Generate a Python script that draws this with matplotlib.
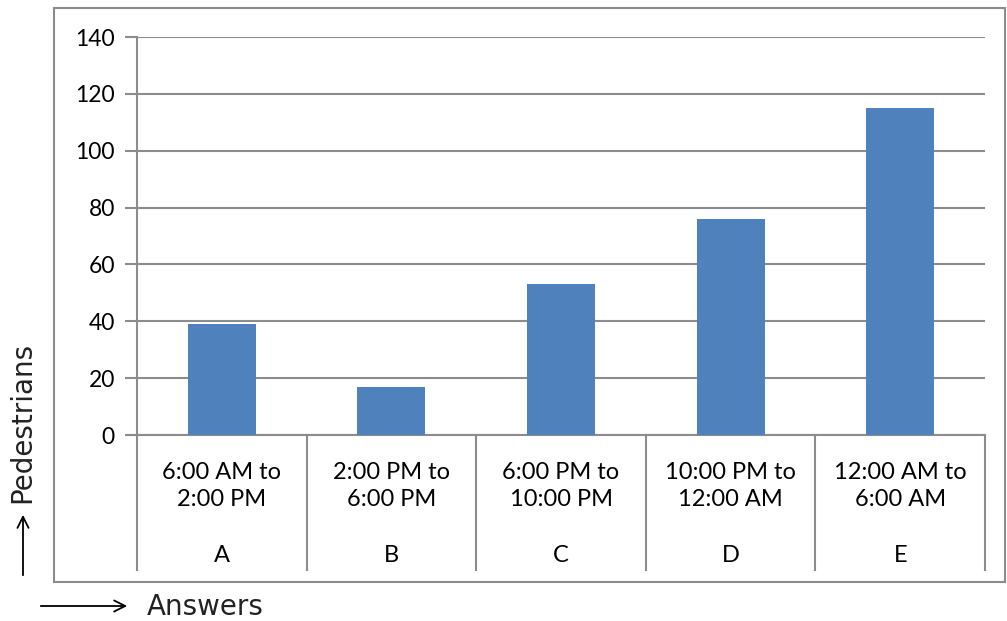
import matplotlib
matplotlib.use('Agg')
import matplotlib.pyplot as plt
from matplotlib.patches import Rectangle, FancyArrowPatch
from matplotlib.transforms import blended_transform_factory

# pedestrian counts per time slot
slots = ['6:00 AM to\n2:00 PM', '2:00 PM to\n6:00 PM', '6:00 PM to\n10:00 PM',
         '10:00 PM to\n12:00 AM', '12:00 AM to\n6:00 AM']
letters = ['A', 'B', 'C', 'D', 'E']
pedestrians = [39, 17, 53, 76, 115]
y_ticks = [0, 20, 40, 60, 80, 100, 120, 140]

BAR = '#4F81BD'
GRID = '#8C8C8C'

W, H = 1007, 621
fig = plt.figure(figsize=(W / 100, H / 100), dpi=100)
fig.patch.set_facecolor('white')

# outer chart border
fig.patches.append(Rectangle((54 / W, 1 - 582 / H), (1005 - 54) / W, (582 - 8) / H,
                             transform=fig.transFigure, fill=False,
                             edgecolor='#8C8C8C', linewidth=1.5))

ax = fig.add_axes([137 / W, 1 - 435 / H, (985 - 137) / W, (435 - 37) / H])
x = list(range(len(pedestrians)))
ax.bar(x, pedestrians, width=0.4, color=BAR, zorder=3)
ax.set_xlim(-0.5, len(pedestrians) - 0.5)
ax.set_ylim(0, 140)
ax.set_yticks(y_ticks)
ax.set_yticklabels([str(v) for v in y_ticks], fontsize=16.5, family='Lato')
ax.set_xticks([])
ax.tick_params(axis='y', length=9, width=1.5, color=GRID, pad=7)
ax.yaxis.grid(True, color=GRID, linewidth=1.5, zorder=0)
for s in ['top', 'right']:
    ax.spines[s].set_visible(False)
ax.spines['left'].set_color(GRID)
ax.spines['left'].set_linewidth(1.5)
ax.spines['bottom'].set_color(GRID)
ax.spines['bottom'].set_linewidth(1.5)

# category table below the axis
tr = blended_transform_factory(ax.transData, ax.transAxes)
depth = (570 - 435) / (435 - 37)
for i in range(len(pedestrians) + 1):
    ax.plot([i - 0.5, i - 0.5], [0, -depth], transform=tr, color=GRID,
            linewidth=1.5, clip_on=False)
ax.plot([-0.5 - 0.06, -0.5], [0, 0], transform=tr, color=GRID, linewidth=1.5,
        clip_on=False)
for i, (s, l) in enumerate(zip(slots, letters)):
    ax.text(i, -(486 - 435) / 398, s, transform=tr, ha='center', va='center',
            fontsize=17, family='Lato', linespacing=1.4)
    ax.text(i, -(556 - 435) / 398, l, transform=tr, ha='center', va='center',
            fontsize=17, family='Lato')

# axis captions with arrows
fig.text(22 / W, 1 - 422 / H, 'Pedestrians', rotation=90, ha='center', va='center',
         fontsize=20, family='DejaVu Sans', color='#222222')
fig.add_artist(FancyArrowPatch(
    (23 / W, 1 - 578 / H), (23 / W, 1 - 512 / H), transform=fig.transFigure,
    arrowstyle='->', mutation_scale=20, color='black', linewidth=1.3))
fig.text(205 / W, 1 - 607 / H, 'Answers', ha='center', va='center',
         fontsize=20, family='DejaVu Sans', color='#222222')
fig.add_artist(FancyArrowPatch(
    (38 / W, 1 - 606 / H), (130 / W, 1 - 606 / H), transform=fig.transFigure,
    arrowstyle='->', mutation_scale=20, color='black', linewidth=1.3))

fig.savefig('out.png', dpi=100)
